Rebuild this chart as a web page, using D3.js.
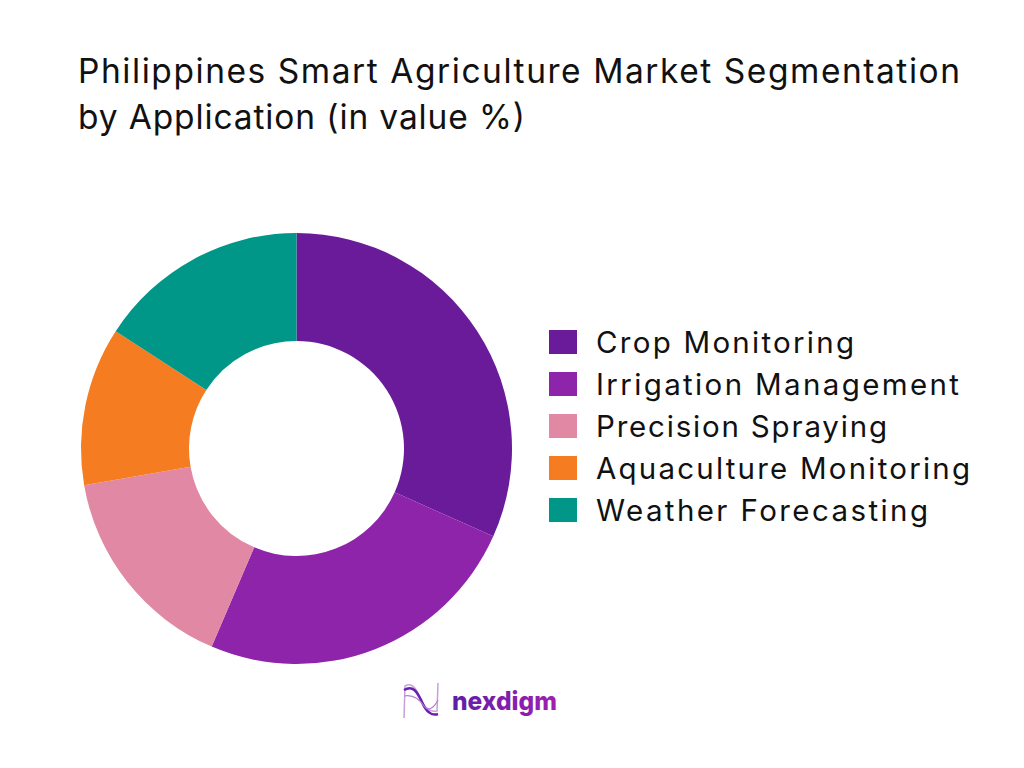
<!DOCTYPE html>
<html><head><meta charset="utf-8"><script src="https://cdn.jsdelivr.net/npm/d3@7"></script>
<style>html,body{margin:0;padding:0;background:#fff}</style></head><body><svg id="c" width="1024" height="768"></svg>
<script>
const categories=["Crop Monitoring","Irrigation Management","Precision Spraying","Aquaculture Monitoring","Weather Forecasting"];
const values=[32,25,16,12,16];
const colors=["#6a1b9a","#8e24aa","#e088a4","#f57c20","#009688"];
const titleLines=["Philippines Smart Agriculture Market Segmentation","by Application (in value %)"];
const titleWidths=[882,447];
const legendWidths=[258,363,291,374,332];
const font="Inter, 'Open Sans', sans-serif";
const svg=d3.select("#c");
svg.append("rect").attr("width",1024).attr("height",768).attr("fill","#fff");
const defs=svg.append("defs");
const g=defs.append("linearGradient").attr("id","lg");
g.append("stop").attr("offset","0").attr("stop-color","#5e1ea8");
g.append("stop").attr("offset","1").attr("stop-color","#a01fb0");
svg.selectAll("text.t").data(titleLines).join("text").attr("class","t").attr("x",78).attr("y",(d,i)=>83+i*46)
 .attr("font-family",font).attr("font-size",33.5).attr("fill","#111")
 .attr("textLength",(d,i)=>titleWidths[i]).attr("lengthAdjust","spacing").text(d=>d);
const pie=d3.pie().sort(null).value(d=>d)(values);
const arc=d3.arc().innerRadius(107.5).outerRadius(215.5);
svg.append("g").attr("transform","translate(296.5,448.5)").selectAll("path").data(pie).join("path").attr("d",arc).attr("fill",(d,i)=>colors[i]);
const y=d3.scalePoint().domain(categories).range([342,510]);
const lg=svg.append("g").selectAll("g").data(categories).join("g").attr("transform",d=>`translate(549,${y(d)})`);
lg.append("rect").attr("y",-12).attr("width",28).attr("height",24).attr("fill",(d,i)=>colors[i]);
lg.append("text").attr("x",47).attr("y",11).attr("font-family",font).attr("font-size",29.5).attr("fill","#111")
 .attr("textLength",(d,i)=>legendWidths[i]).attr("lengthAdjust","spacing").text(d=>d);
svg.append("text").attr("x",452).attr("y",710).attr("font-family",font).attr("font-weight",800).attr("font-size",26).attr("textLength",105).attr("lengthAdjust","spacingAndGlyphs").attr("fill","url(#lg)").text("nexdigm");
const logo=svg.append("g").attr("fill","none");
logo.append("path").attr("d","M404 718 L405 686 C412 682 416 688 420 698 C424 708 430 712 437 711 L438 683").attr("stroke","#c9a0dc").attr("stroke-width",1.5);
logo.append("path").attr("d","M404 690 C414 684 418 694 422 702 C426 712 432 716 438 714").attr("stroke","#6a1fb0").attr("stroke-width",2.5);
logo.append("path").attr("d","M404 696 C414 694 420 700 424 706 C428 712 434 708 438 700").attr("stroke","#b57bd6").attr("stroke-width",1.2);
</script></body></html>
